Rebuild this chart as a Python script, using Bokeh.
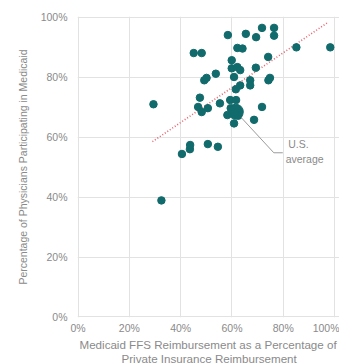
from bokeh.plotting import figure
from bokeh.models import ColumnDataSource, Range1d, Label, FixedTicker, Title, CustomJSTickFormatter
from bokeh.embed import file_html
from bokeh.resources import INLINE

# State values: Medicaid FFS reimbursement (% of private) vs physician participation (%)
reimb = [29.4, 32.5, 40.5, 43.6, 43.7, 50.6, 54.5, 45.1, 48.2, 58.4, 65.4, 69.4, 71.7,
         76.4, 76.4, 62.1, 64.1, 85.1, 98.3, 59.9, 74.1, 53.7, 49.2, 50.1, 59.9, 62.1,
         63.2, 69.3, 60.8, 67.1, 67.1, 74.2, 74.8, 63.2, 61.5, 47.5, 46.8, 48.2, 50.6,
         55.3, 59.3, 61.6, 71.7, 58.2, 60.8, 68.6, 59.5, 62.5]
particip = [71.0, 38.9, 54.4, 56.0, 57.4, 57.7, 56.8, 88.1, 88.1, 94.1, 94.5, 93.4, 96.5,
            96.5, 93.9, 89.8, 89.6, 90.0, 90.0, 85.7, 86.8, 81.2, 79.0, 79.8, 83.0, 83.4,
            82.4, 83.2, 80.1, 79.0, 77.3, 79.0, 79.8, 77.3, 76.0, 73.2, 70.1, 68.4, 69.7,
            71.3, 72.4, 72.4, 70.1, 67.4, 64.6, 65.8, 69.7, 67.2]

us_avg_x = [61.5]
us_avg_y = [68.5]

trend_x = [29.0, 97.5]
trend_y = [58.5, 98.4]

leader_x = [61.5, 76.3, 79.8]
leader_y = [68.5, 54.8, 54.8]

ticks = [0, 20, 40, 60, 80, 100]

FONT = "Liberation Sans"
GRAY = "#8a8a8a"
TEAL = "#116a6b"

p = figure(width=339, height=364, output_backend="svg", toolbar_location=None,
           x_range=Range1d(-0.2, 101.9), y_range=Range1d(-0.2, 100.3),
           min_border_left=77, min_border_right=0, min_border_top=16, min_border_bottom=0)
p.outline_line_color = None
p.background_fill_color = "white"
p.border_fill_color = "white"

fmt = CustomJSTickFormatter(code="return tick.toFixed(0) + '%';")
for ax in (p.xaxis[0], p.yaxis[0]):
    ax.ticker = FixedTicker(ticks=ticks)
    ax.formatter = fmt
    ax.axis_line_color = None
    ax.major_tick_line_color = None
    ax.minor_tick_line_color = None
    ax.major_tick_out = 0
    ax.major_tick_in = 0
    ax.minor_tick_out = 0
    ax.minor_tick_in = 0
    ax.major_label_text_font = FONT
    ax.major_label_text_font_size = "10.5px"
    ax.major_label_text_color = GRAY
p.xaxis[0].major_label_standoff = 4
p.yaxis[0].major_label_standoff = 10

p.yaxis[0].axis_label = "Percentage of Physicians Participating in Medicaid"
p.yaxis[0].axis_label_text_font = FONT
p.yaxis[0].axis_label_text_font_size = "10.5px"
p.yaxis[0].axis_label_text_font_style = "normal"
p.yaxis[0].axis_label_text_color = GRAY
p.yaxis[0].axis_label_standoff = 9

p.xgrid.grid_line_color = "#e2e2e2"
p.ygrid.grid_line_color = "#e2e2e2"
p.xgrid.ticker = FixedTicker(ticks=ticks)
p.ygrid.ticker = FixedTicker(ticks=ticks)

src = ColumnDataSource(dict(x=reimb, y=particip))
p.line(trend_x, trend_y, line_color="#e8636e", line_width=1.6, line_dash="1 2")
p.scatter("x", "y", source=src, size=7.5, fill_color=TEAL, line_color=TEAL)
p.line(leader_x, leader_y, line_color="#9a9a9a", line_width=1)
p.scatter(us_avg_x, us_avg_y, size=15, fill_color=TEAL, line_color=TEAL)

p.add_layout(Label(x=85.9, y=57.6, text="U.S.", text_align="center", text_baseline="middle",
                   text_font=FONT, text_font_size="10.5px", text_color=GRAY))
p.add_layout(Label(x=88.3, y=52.8, text="average", text_align="center", text_baseline="middle",
                   text_font=FONT, text_font_size="10.5px", text_color=GRAY))

# x-axis title, two lines (first runs off the right edge as in the original)
t1 = Title(text="Medicaid FFS Reimbursement as a Percentage of", align="left", offset=2,
           text_font=FONT, text_font_size="11.6px", text_font_style="normal",
           text_color=GRAY, standoff=-1, text_line_height=1.0)
t2 = Title(text="Private Insurance Reimbursement", align="left", offset=44,
           text_font=FONT, text_font_size="11.6px", text_font_style="normal",
           text_color=GRAY, standoff=-1, text_line_height=1.0)
p.add_layout(t1, "below")
p.add_layout(t2, "below")

open("out.html", "w").write(file_html(p, INLINE))
